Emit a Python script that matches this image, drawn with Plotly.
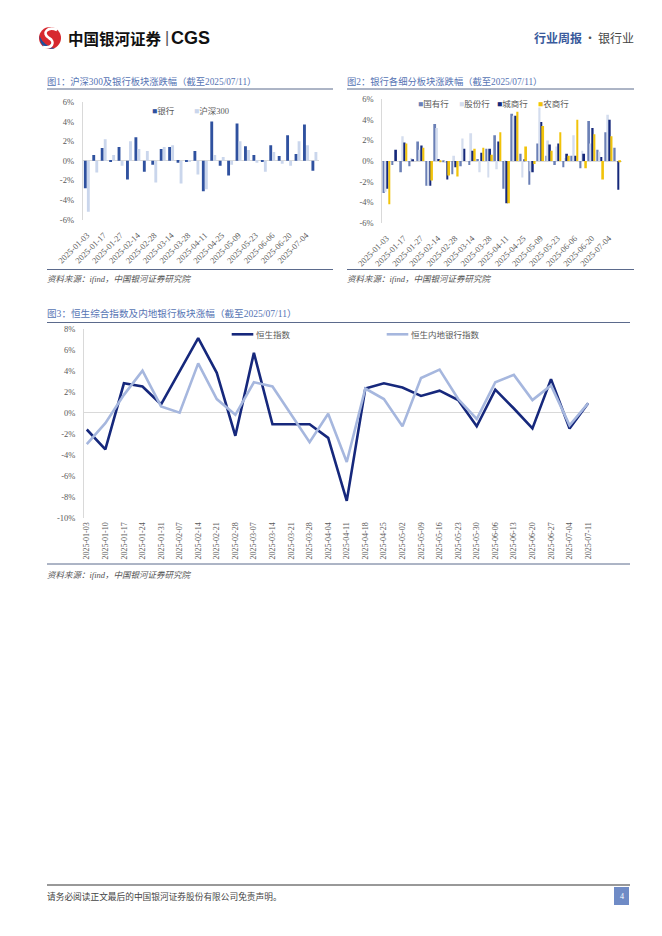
import plotly.graph_objects as go

# ---------------- data ----------------
dates1 = ["2025-01-03", "2025-01-10", "2025-01-17", "2025-01-24", "2025-01-27", "2025-02-07",
          "2025-02-14", "2025-02-21", "2025-02-28", "2025-03-07", "2025-03-14", "2025-03-21",
          "2025-03-28", "2025-04-03", "2025-04-11", "2025-04-18", "2025-04-25", "2025-04-30",
          "2025-05-09", "2025-05-16", "2025-05-23", "2025-05-30", "2025-06-06", "2025-06-13",
          "2025-06-20", "2025-06-27", "2025-07-04", "2025-07-11"]
bank = [-2.8, 0.6, 1.3, -0.1, 1.4, -1.9, 2.4, -1.1, -0.4, 1.2, 1.4, -0.2, -0.05, 1.0,
        -3.1, 4.0, -0.5, -1.5, 3.8, 1.5, 0.6, -0.05, 1.6, 0.5, 2.6, 0.7, 3.7, -1.0]
hs300 = [-5.2, -1.2, 2.2, 0.6, -0.5, 2.0, 1.2, 1.0, -2.2, 1.4, 1.6, -2.3, -0.05, -1.4,
         -2.9, 0.6, 0.4, -0.4, 2.0, 1.1, -0.2, -1.1, 0.9, -0.3, -0.5, 2.0, 1.6, 0.9]

state_banks = [-3.1, -0.4, -1.1, -0.5, 1.9, -2.4, 3.6, -0.1, -1.3, -0.5, -0.4, 0.2, 1.2, 2.5,
               -2.7, 4.6, 0.7, -2.3, 1.7, 0.5, -0.4, -0.6, 0.5, -0.7, 3.9, 1.1, 2.8, 1.3]
joint_banks = [-3.0, 0.0, 2.4, 0.3, 1.1, -2.4, 3.2, -0.2, 0.5, 2.2, 2.7, -1.1, -1.6, -0.8,
               -0.1, 4.4, -1.6, -1.0, 5.2, 2.0, 1.4, 0.3, 2.5, 1.0, 1.7, 0.9, 4.5, 0.0]
city_banks = [-2.7, 1.1, 1.8, 0.1, 1.5, -2.4, 0.2, -1.8, -0.6, 1.2, 1.0, 0.8, 1.2, 1.9,
              -4.1, 4.4, 0.1, -1.1, 3.8, 1.6, 1.7, 0.7, 0.5, 0.7, 3.2, 0.4, 4.0, -2.8]
rural_banks = [-4.2, 0.0, 1.7, 0.0, 1.3, -1.9, -0.1, -1.4, -1.5, 0.0, 1.2, 1.3, 0.6, 2.8,
               -4.1, 4.8, 1.4, -0.3, 3.4, 1.0, 2.8, 0.5, 4.0, -0.7, 2.6, -1.8, 2.4, -0.1]

dates3 = ["2025-01-03", "2025-01-10", "2025-01-17", "2025-01-24", "2025-01-31", "2025-02-07",
          "2025-02-14", "2025-02-21", "2025-02-28", "2025-03-07", "2025-03-14", "2025-03-21",
          "2025-03-28", "2025-04-04", "2025-04-11", "2025-04-18", "2025-04-25", "2025-05-02",
          "2025-05-09", "2025-05-16", "2025-05-23", "2025-05-30", "2025-06-06", "2025-06-13",
          "2025-06-20", "2025-06-27", "2025-07-04", "2025-07-11"]
hsi = [-1.6, -3.5, 2.8, 2.5, 0.8, 3.9, 7.1, 3.8, -2.2, 5.7, -1.1, -1.1, -1.1, -2.4,
       -8.4, 2.3, 2.8, 2.4, 1.6, 2.1, 1.2, -1.3, 2.2, 0.4, -1.5, 3.2, -1.5, 0.9]
hs_mainland_banks = [-3.0, -1.0, 1.7, 4.0, 0.6, 0.0, 4.7, 1.3, -0.2, 2.9, 2.5, -0.2, -2.8, -0.1,
                     -4.7, 2.3, 1.3, -1.3, 3.3, 4.1, 1.3, -0.6, 2.9, 3.6, 1.2, 2.6, -1.2, 0.9]

yticks_small = [-6, -4, -2, 0, 2, 4, 6]
yticks_big = [-10, -8, -6, -4, -2, 0, 2, 4, 6, 8]

# ---------------- page geometry helpers ----------------
W, H = 662, 936
PAD = 8  # page body margin of the html page


def X(px):
    return (px - PAD) / W


def Y(py):
    return 1 - (py - PAD) / H


SERIF = "Liberation Serif, Noto Sans CJK SC"
CJK = "Noto Sans CJK SC"
TICK_FONT = dict(family=SERIF, size=8.5, color="#595959")
TITLE_COLOR = "#5674b4"

fig = go.Figure()

# ---- Figure 1 bars ----
fig1_series = [("银行", bank, "#2f519f", -0.36), ("沪深300", hs300, "#cad6ec", 0.0)]
for nm, vals, col, off in fig1_series:
    fig.add_trace(go.Bar(x=dates1, y=vals, name=nm, marker=dict(color=col, line=dict(width=0)),
                         width=0.34, offset=off, xaxis="x", yaxis="y", showlegend=False))

# ---- Figure 2 bars ----
fig2_series = [("国有行", state_banks, "#6b80b6"), ("股份行", joint_banks, "#d4ddee"),
               ("城商行", city_banks, "#15287a"), ("农商行", rural_banks, "#f1c30a")]
for k, (nm, vals, col) in enumerate(fig2_series):
    fig.add_trace(go.Bar(x=dates1, y=vals, name=nm, marker=dict(color=col, line=dict(width=0)),
                         width=0.21, offset=-0.42 + 0.21 * k,
                         xaxis="x2", yaxis="y2", showlegend=False))

# ---- Figure 3 lines ----
fig3_series = [("恒生指数", hsi, "#16287c"), ("恒生内地银行指数", hs_mainland_banks, "#a6b7de")]
for nm, vals, col in fig3_series:
    fig.add_trace(go.Scatter(x=dates3, y=vals, name=nm, mode="lines",
                             line=dict(color=col, width=2.6),
                             xaxis="x3", yaxis="y3", showlegend=False))


def pct(vals):
    return ["{}%".format(v) for v in vals]


common_y = dict(showgrid=False, zeroline=True, zerolinecolor="#d9d9d9", zerolinewidth=1,
                showline=True, linecolor="#d9d9d9", linewidth=1, ticks="", automargin=False,
                tickfont=TICK_FONT, fixedrange=True, ticklabelstandoff=6)
common_x = dict(type="category", showgrid=False, zeroline=False, showline=False, ticks="",
                automargin=False, tickfont=TICK_FONT, fixedrange=True)

fig.update_layout(
    width=W, height=H, margin=dict(l=0, r=0, t=0, b=0, autoexpand=False),
    paper_bgcolor="white", plot_bgcolor="white", showlegend=False,
    font=dict(family=SERIF, size=8, color="#595959"),
    xaxis=dict(common_x, domain=[X(82.7), X(318.7)], range=[-0.5, 27.5], anchor="y",
               tickmode="array", tickvals=dates1[::2], ticktext=dates1[::2], tickangle=-45,
               ticklabelstandoff=8),
    yaxis=dict(common_y, domain=[Y(219.7), Y(102)], range=[-6, 6], anchor="x",
               tickmode="array", tickvals=yticks_small, ticktext=pct(yticks_small)),
    xaxis2=dict(common_x, domain=[X(382.3), X(621.7)], range=[-0.5, 27.5], anchor="y2",
                tickmode="array", tickvals=dates1[::2], ticktext=dates1[::2], tickangle=-45,
                ticklabelstandoff=8),
    yaxis2=dict(common_y, domain=[Y(222.7), Y(99.3)], range=[-6, 6], anchor="x2",
                tickmode="array", tickvals=yticks_small, ticktext=pct(yticks_small)),
    xaxis3=dict(common_x, domain=[X(84), X(590)], range=[-0.15, 27.1], anchor="y3",
                tickmode="array", tickvals=dates3, ticktext=dates3, tickangle=-90,
                tickfont=dict(family=SERIF, size=8, color="#595959"), ticklabelstandoff=2),
    yaxis3=dict(common_y, domain=[Y(517.7), Y(328.7)], range=[-10, 8], anchor="x3",
                tickmode="array", tickvals=yticks_big, ticktext=pct(yticks_big)),
    barmode="overlay",
)

shapes = []
annotations = []


def hline(x0, x1, y, color, width=1):
    shapes.append(dict(type="line", xref="paper", yref="paper", x0=X(x0), x1=X(x1),
                       y0=Y(y), y1=Y(y), line=dict(color=color, width=width)))


def text(x, y, s, size, color, family=SERIF, xanchor="left", weight=None, italic=False):
    f = dict(family=family, size=size, color=color)
    if weight:
        f["weight"] = weight
    if italic:
        f["style"] = "italic"
    annotations.append(dict(x=X(x), y=Y(y), xref="paper", yref="paper", text=s, showarrow=False,
                            xanchor=xanchor, yanchor="middle", font=f, borderpad=0))


# ---- legends (colored square glyph / line + label) ----
legend1_pos = [151, 193]
for (nm, _, col, _), lx in zip(fig1_series, legend1_pos):
    text(lx, 110.5, "<span style='color:{}'>■</span>{}".format(col, nm), 8.5, "#595959", family=SERIF)
legend2_pos = [417, 458, 496, 537]
for (nm, _, col), lx in zip(fig2_series, legend2_pos):
    text(lx, 104.3, "<span style='color:{}'>■</span>{}".format(col, nm), 8.5, "#595959", family=SERIF)
legend3_pos = [(231.7, 253.3), (386.7, 408.3)]
for (nm, _, col), (lx0, lx1) in zip(fig3_series, legend3_pos):
    hline(lx0, lx1, 334.3, col, 2.6)
    text(lx1 + 1.5, 334.3, nm, 8.5, "#595959", family=CJK)

# header logo
shapes.append(dict(type="circle", xref="paper", yref="paper", x0=X(39), x1=X(61), y0=Y(49), y1=Y(27),
                   fillcolor="#d7282f", line=dict(width=0)))
blue_path = "M {} {} Q {} {} {} {} Q {} {} {} {} Z".format(
    X(39.5), Y(36), X(40), Y(50), X(55), Y(48.5), X(44), Y(46), X(39.5), Y(36))
shapes.append(dict(type="path", xref="paper", yref="paper", path=blue_path,
                   fillcolor="#1f4e9c", line=dict(width=0)))
swoosh = "M {} {} C {} {} {} {} {} {} C {} {} {} {} {} {}".format(
    X(57), Y(30), X(48), Y(26), X(41), Y(33), X(49), Y(38),
    X(56), Y(42), X(52), Y(49), X(43), Y(47))
shapes.append(dict(type="path", xref="paper", yref="paper", path=swoosh,
                   line=dict(color="white", width=2.6)))
text(67, 37.5, "中国银河证券", 15.5, "#111111", family=CJK, weight="bold")
text(163.5, 37.5, "|", 16, "#555555", family="Liberation Sans")
text(170, 37.5, "CGS", 18, "#111111", family="Liberation Sans", weight="bold")
text(533, 37.5, "行业周报", 12, "#3a5a9c", family=CJK, weight="bold")
text(590, 37.5, "·", 12, "#555555", family=CJK, xanchor="center")
text(597, 37.5, "银行业", 12, "#444444", family=CJK)

# figure titles and rules
text(46, 81.5, "图1：沪深300及银行板块涨跌幅（截至2025/07/11）", 9.3, TITLE_COLOR)
hline(47, 333, 89, "#5b6a8c", 1)
text(346, 81.5, "图2：银行各细分板块涨跌幅（截至2025/07/11）", 9.3, TITLE_COLOR)
hline(347, 634, 89, "#5b6a8c", 1)
hline(47, 333, 269.5, "#5b6a8c", 1)
hline(347, 634, 269.5, "#5b6a8c", 1)
text(46, 279, "资料来源：ifind，中国银河证券研究院", 8.5, "#555555", italic=True)
text(346, 279, "资料来源：ifind，中国银河证券研究院", 8.5, "#555555", italic=True)

text(46, 314, "图3：恒生综合指数及内地银行板块涨幅（截至2025/07/11）", 9.6, TITLE_COLOR)
hline(47, 630, 322.5, "#5b6a8c", 1)
hline(47, 630, 564, "#5b6a8c", 1)
text(46, 574.5, "资料来源：ifind，中国银河证券研究院", 8.5, "#555555", italic=True)

# footer
hline(47, 630, 885, "#333333", 1)
text(46, 896, "请务必阅读正文最后的中国银河证券股份有限公司免责声明。", 8.7, "#444444", family=CJK)
shapes.append(dict(type="rect", xref="paper", yref="paper", x0=X(614), x1=X(629), y0=Y(905), y1=Y(887),
                   fillcolor="#6f8bc6", line=dict(width=0)))
text(621.5, 896, "4", 8, "white", xanchor="center")

fig.update_layout(shapes=shapes, annotations=annotations)

fig.write_html("out.html")
